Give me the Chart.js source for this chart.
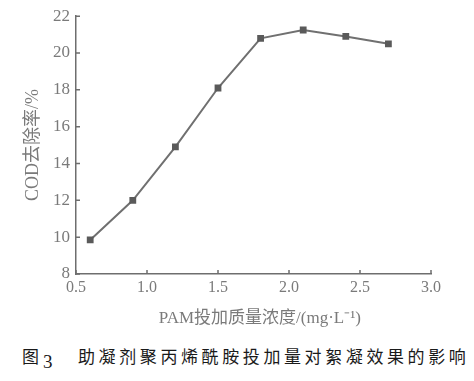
<!DOCTYPE html>
<html>
<head>
<meta charset="utf-8">
<script src="https://cdn.jsdelivr.net/npm/chart.js@4.4.1/dist/chart.umd.min.js"></script>
<style>
  html, body { margin: 0; padding: 0; background: #fff; }
  body { width: 474px; height: 381px; position: relative; overflow: hidden; }
  #wrap { position: absolute; left: 0; top: 0; width: 474px; height: 340px; }
  #cap { position: absolute; left: 0; top: 346px; width: 474px; height: 30px;
         font-family: "Noto Sans CJK SC", sans-serif; color: #1a1a1a; font-size: 17px; line-height: 1; white-space: nowrap; }
  #cap span { position: absolute; line-height: 1; }
  #cap .fig { left: 22px; top: 1px; }
  #cap .num { left: 43px; top: 6px; font-family: "Liberation Serif", serif; font-size: 19px; }
  #cap .txt { left: 78px; top: 1px; letter-spacing: 3.6px; }
</style>
</head>
<body>
<div id="wrap"><canvas id="c"></canvas></div>
<div id="cap"><span class="fig">图</span><span class="num">3</span><span class="txt">助凝剂聚丙烯酰胺投加量对絮凝效果的影响</span></div>
<script>
const doses = [0.6, 0.9, 1.2, 1.5, 1.8, 2.1, 2.4, 2.7];
const codRemoval = [9.85, 12.0, 14.9, 18.1, 20.8, 21.25, 20.9, 20.5];
const xTicks = [0.5, 1.0, 1.5, 2.0, 2.5, 3.0];
const yTicks = [8, 10, 12, 14, 16, 18, 20, 22];
const xTitle = '   PAM投加质量浓度/(mg·L⁻¹)';
const yTitle = 'COD去除率/%';

const axisColor = '#6e6e6e';
const textColor = '#7a7a7a';

const innerTicks = {
  id: 'innerTicks',
  afterDraw(chart) {
    const {ctx, chartArea: a, scales: {x, y}} = chart;
    ctx.save();
    ctx.strokeStyle = axisColor;
    ctx.lineWidth = 1.5;
    ctx.beginPath();
    xTicks.forEach(v => {
      const px = x.getPixelForValue(v);
      ctx.moveTo(px, a.bottom);
      ctx.lineTo(px, a.bottom - 4);
    });
    yTicks.forEach(v => {
      const py = y.getPixelForValue(v);
      ctx.moveTo(a.left, py);
      ctx.lineTo(a.left + 4, py);
    });
    ctx.stroke();
    ctx.restore();
  }
};

new Chart(document.getElementById('c'), {
  type: 'line',
  data: {
    datasets: [{
      data: doses.map((d, i) => ({x: d, y: codRemoval[i]})),
      borderColor: '#707070',
      borderWidth: 2,
      backgroundColor: '#5a5a5a',
      pointStyle: 'rect',
      pointRadius: 4.8,
      pointBorderWidth: 0,
      pointBackgroundColor: '#5a5a5a',
      tension: 0
    }]
  },
  options: {
    responsive: true,
    maintainAspectRatio: false,
    animation: false,
    layout: { padding: { left: 0, right: 43, top: 16, bottom: 0 } },
    plugins: { legend: { display: false }, tooltip: { enabled: false } },
    scales: {
      x: {
        type: 'linear',
        min: 0.5, max: 3.0,
        afterBuildTicks: s => { s.ticks = xTicks.map(v => ({value: v})); },
        afterFit: s => { s.height = 66; },
        grid: { display: false, drawTicks: false },
        border: { display: true, color: axisColor, width: 1.5 },
        ticks: {
          padding: 4,
          color: textColor,
          font: { family: '"Liberation Serif", serif', size: 16 },
          callback: v => Number(v).toFixed(1)
        },
        title: {
          display: true,
          text: xTitle,
          color: textColor,
          font: { family: '"Liberation Serif", "Noto Sans CJK SC", serif', size: 17 },
          padding: { top: 0, bottom: 11 }
        }
      },
      y: {
        type: 'linear',
        min: 8, max: 22,
        afterBuildTicks: s => { s.ticks = yTicks.map(v => ({value: v})); },
        afterFit: s => { s.width = 76; },
        grid: { display: false, drawTicks: false },
        border: { display: true, color: axisColor, width: 1.5 },
        ticks: {
          padding: 6,
          color: textColor,
          font: { family: '"Liberation Serif", serif', size: 17 }
        },
        title: {
          display: true,
          text: yTitle,
          color: textColor,
          font: { family: '"Liberation Serif", "Noto Sans CJK SC", serif', size: 18 },
          padding: { top: 22, bottom: 0 }
        }
      }
    }
  },
  plugins: [innerTicks]
});
</script>
</body>
</html>
